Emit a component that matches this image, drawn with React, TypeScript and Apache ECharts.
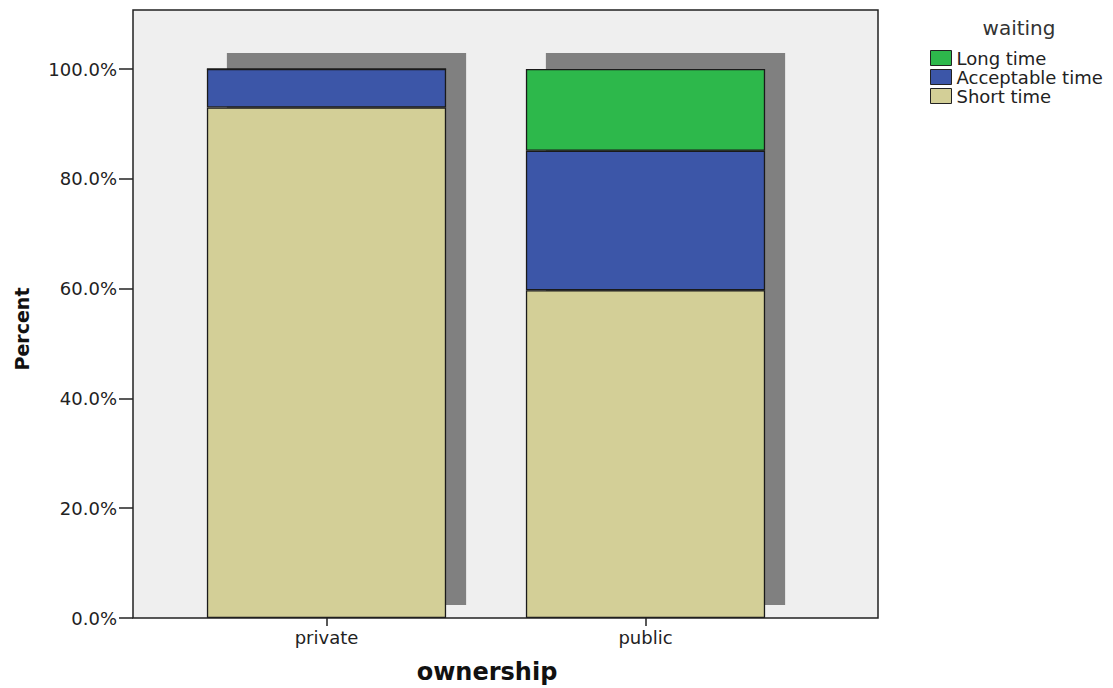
import React, { useEffect, useRef } from "react";
import * as echarts from "echarts";

const categories = ["private", "public"];
const seriesNames = ["Short time", "Acceptable time", "Long time"];
const shortTime = [93.0, 59.7];
const acceptableTime = [7.0, 25.4];
const longTime = [0, 14.9];
const yTicks = [0, 20, 40, 60, 80, 100];

const colors: Record<string, string> = {
  "Short time": "#D3CF97",
  "Acceptable time": "#3C56A8",
  "Long time": "#2DB84B",
};

const FONT = "DejaVu Sans, Verdana, sans-serif";

export default function App() {
  const ref = useRef<HTMLDivElement>(null);
  useEffect(() => {
    if (!ref.current) return;
    const chart = echarts.init(ref.current, undefined, { renderer: "svg" });
    const values = [shortTime, acceptableTime, longTime];
    const totals = categories.map((_, i) => values.reduce((s, arr) => s + arr[i], 0));
    const gridLeft = 167;
    const gridRight = 805;
    const gridTop = 10;
    const gridBottom = 618;
    chart.setOption({
      animation: false,
      backgroundColor: "#ffffff",
      grid: {
        left: gridLeft,
        top: gridTop,
        width: gridRight - gridLeft,
        height: gridBottom - gridTop,
        containLabel: false,
      },
      xAxis: {
        type: "category",
        data: categories,
        axisLine: { show: false },
        axisTick: { show: true, alignWithLabel: true, length: 8, lineStyle: { color: "#222", width: 1.5 } },
        axisLabel: { fontFamily: FONT, fontSize: 18, color: "#222", margin: 10 },
        splitLine: { show: false },
      },
      yAxis: {
        type: "value",
        min: 0,
        max: 110.75,
        interval: 20,
        offset: gridLeft - 133,
        axisLine: { show: false },
        axisTick: { show: true, length: 14, lineStyle: { color: "#222", width: 1.5 } },
        axisLabel: {
          fontFamily: FONT,
          fontSize: 18,
          color: "#222",
          margin: 16,
          showMaxLabel: false,
          formatter: (v: number) => (yTicks.includes(v) ? v.toFixed(1) + "%" : ""),
        },
        splitLine: { show: false },
      },
      legend: {
        orient: "vertical",
        left: 930,
        top: 49,
        padding: 0,
        itemWidth: 21,
        itemHeight: 15,
        itemGap: 1,
        icon: "rect",
        data: ["Long time", "Acceptable time", "Short time"],
        itemStyle: { borderColor: "#222", borderWidth: 1 },
        textStyle: { fontFamily: FONT, fontSize: 18, color: "#222" },
      },
      graphic: [
        {
          type: "rect",
          z: -10,
          silent: true,
          shape: { x: 133, y: 10, width: 745, height: 608 },
          style: { fill: "#EFEFEF", stroke: "none" },
        },
        {
          type: "rect",
          z: 100,
          silent: true,
          shape: { x: 133, y: 10, width: 745, height: 608 },
          style: { fill: "none", stroke: "#222", lineWidth: 1.5 },
        },
        {
          type: "text",
          x: 1019,
          y: 28,
          style: {
            text: "waiting",
            fontFamily: FONT,
            fontSize: 20,
            fill: "#333",
            align: "center",
            verticalAlign: "middle",
          },
        },
        {
          type: "text",
          x: 487,
          y: 672,
          style: {
            text: "ownership",
            fontFamily: FONT,
            fontSize: 24,
            fontWeight: "bold",
            fill: "#111",
            align: "center",
            verticalAlign: "middle",
          },
        },
        {
          type: "text",
          x: 22,
          y: 329,
          rotation: Math.PI / 2,
          style: {
            text: "Percent",
            fontFamily: FONT,
            fontSize: 19,
            fontWeight: "bold",
            fill: "#111",
            align: "center",
            verticalAlign: "middle",
          },
        },
      ],
      series: [
        {
          type: "custom",
          name: "shadow",
          z: 1,
          silent: true,
          data: categories.map((_, i) => [i, totals[i]]),
          encode: { x: 0, y: 1 },
          renderItem: (params: any, api: any) => {
            const x = api.value(0);
            const v = api.value(1);
            const top = api.coord([x, v]);
            const bot = api.coord([x, 0]);
            const w = api.size([1, 0])[0] * 0.75;
            return {
              type: "rect",
              shape: { x: top[0] - w / 2 + 20, y: top[1] - 16, width: w, height: bot[1] - top[1] + 3 },
              style: { fill: "#808080" },
            };
          },
        },
        ...seriesNames.map((name, k) => ({
          type: "bar",
          name,
          stack: "total",
          z: 2,
          barWidth: "75%",
          data: values[k],
          itemStyle: { color: colors[name], borderColor: "#1a1a1a", borderWidth: 1.3 },
        })),
      ],
    });
    return () => chart.dispose();
  }, []);
  return (
    <div
      ref={ref}
      style={{ position: "fixed", left: 0, top: 0, width: 1113, height: 688 }}
    />
  );
}
